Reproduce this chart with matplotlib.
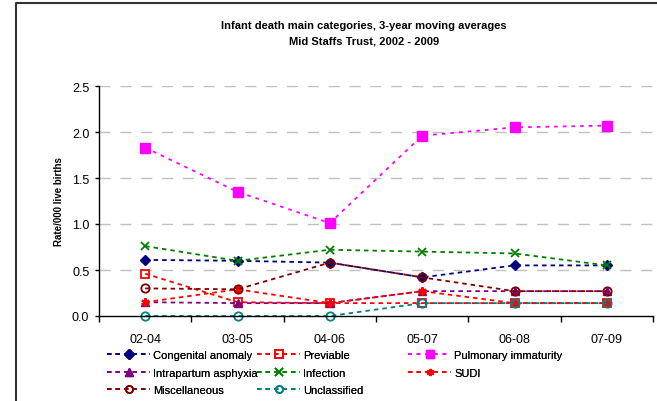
import matplotlib
matplotlib.use("Agg")
import matplotlib.pyplot as plt
from matplotlib.lines import Line2D

plt.rcParams["font.family"] = ["Liberation Sans", "DejaVu Sans"]

periods = ["02-04", "03-05", "04-06", "05-07", "06-08", "07-09"]

congenital = [0.61, 0.60, 0.58, 0.42, 0.55, 0.55]
previable = [0.46, 0.15, 0.14, 0.14, 0.14, 0.14]
pulmonary = [1.83, 1.35, 1.01, 1.96, 2.05, 2.07]
intrapartum = [0.15, 0.14, 0.14, 0.27, 0.27, 0.27]
infection = [0.76, 0.60, 0.72, 0.70, 0.68, 0.55]
sudi = [0.15, 0.29, 0.14, 0.27, 0.14, 0.14]
misc = [0.30, 0.29, 0.58, 0.42, 0.27, 0.27]
unclassified = [0.0, 0.0, 0.0, 0.14, 0.14, 0.14]

fig = plt.figure(figsize=(6.57, 4.02), dpi=100)
ax = fig.add_axes([99 / 657, 1 - 317 / 402, 554 / 657, 230 / 402])

x = list(range(len(periods)))
dash = (0, (2.5, 2.2))
common = dict(lw=1.3, ms=6)

h_cong, = ax.plot(x, congenital, color="#000080", ls=dash, marker="D", ms=5.5,
                  mfc="#000080", mec="#000080", lw=1.3, label="Congenital anomaly")
h_prev, = ax.plot(x, previable, color="#FF0000", ls=dash, marker="s", mfc="none",
                  mec="#FF0000", mew=1.3, label="Previable", **common)
h_pulm, = ax.plot(x, pulmonary, color="#FF00FF", ls=(0, (2, 2.8)), marker="s",
                  mfc="#FF00FF", mec="#FF00FF", lw=1.3, ms=7, label="Pulmonary immaturity")
h_intra, = ax.plot(x, intrapartum, color="#800080", ls=dash, marker="^", mfc="#800080",
                   mec="#800080", label="Intrapartum asphyxia", **common)
h_inf, = ax.plot(x, infection, color="#008000", ls=dash, marker="x", mec="#008000",
                 mew=1.3, label="Infection", **common)
h_sudi, = ax.plot(x, sudi, color="#FF0000", ls=dash, marker=(6, 2, 0), mec="#FF0000",
                  mew=1.5, label="SUDI", **common)
h_misc, = ax.plot(x, misc, color="#800000", ls=dash, marker="o", mfc="none",
                  mec="#800000", mew=1.3, label="Miscellaneous", **common)
h_uncl, = ax.plot(x, unclassified, color="#008080", ls=dash, marker="o", mfc="none",
                  mec="#008080", mew=1.3, label="Unclassified", **common)

for ln in ax.lines:
    ln.set_clip_on(False)

ax.set_xlim(-0.5, len(periods) - 0.5)
ax.set_ylim(0, 2.5)
ax.set_yticks([0, 0.5, 1.0, 1.5, 2.0, 2.5])
ax.set_yticklabels(["0.0", "0.5", "1.0", "1.5", "2.0", "2.5"])
ax.set_xticks([i - 0.5 for i in range(len(periods) + 1)])
ax.set_xticklabels([])
ax.set_xticks(x, minor=True)
ax.set_xticklabels(periods, minor=True)
ax.tick_params(axis="x", which="major", direction="out", length=4, width=1, color="black")
ax.tick_params(axis="x", which="minor", length=0, pad=12, labelsize=9)
ax.tick_params(axis="y", direction="out", length=3, width=1, pad=4, labelsize=9)

for yv in [0.5, 1.0, 1.5, 2.0, 2.5]:
    ax.axhline(yv, color="#c0c0c0", lw=1, ls=(0, (8, 7)), zorder=0)

for s in ["top", "right"]:
    ax.spines[s].set_visible(False)
for s in ["left", "bottom"]:
    ax.spines[s].set_linewidth(1)
    ax.spines[s].set_color("black")

fig.text(364 / 657, 1 - 26 / 402, "Infant death main categories, 3-year moving averages",
         ha="center", va="center", fontsize=8, fontweight="bold")
fig.text(364 / 657, 1 - 42 / 402, "Mid Staffs Trust, 2002 - 2009",
         ha="center", va="center", fontsize=8, fontweight="bold")
fig.text(59 / 657, 1 - 202 / 402, "Rate/000 live births", rotation=90,
         ha="center", va="center", fontsize=7, fontweight="bold")

columns = [[h_cong, h_intra, h_misc], [h_prev, h_inf, h_uncl], [h_pulm, h_sudi]]
xstarts = [107, 257, 408]
for hs, xs in zip(columns, xstarts):
    leg = fig.legend(handles=hs, loc="upper left", bbox_to_anchor=(xs / 657, 1 - 351 / 402),
                     frameon=False, fontsize=8, handlelength=3.9, handletextpad=0.25,
                     labelspacing=0.68, borderpad=0, borderaxespad=0, numpoints=1,
                     markerscale=0.85)
    fig.add_artist(leg)

fig.add_artist(Line2D([16 / 657, 16 / 657, 1], [0, 1 - 4 / 402, 1 - 4 / 402],
                      color="#333333", lw=1.5))

fig.savefig("out.png", dpi=100)
